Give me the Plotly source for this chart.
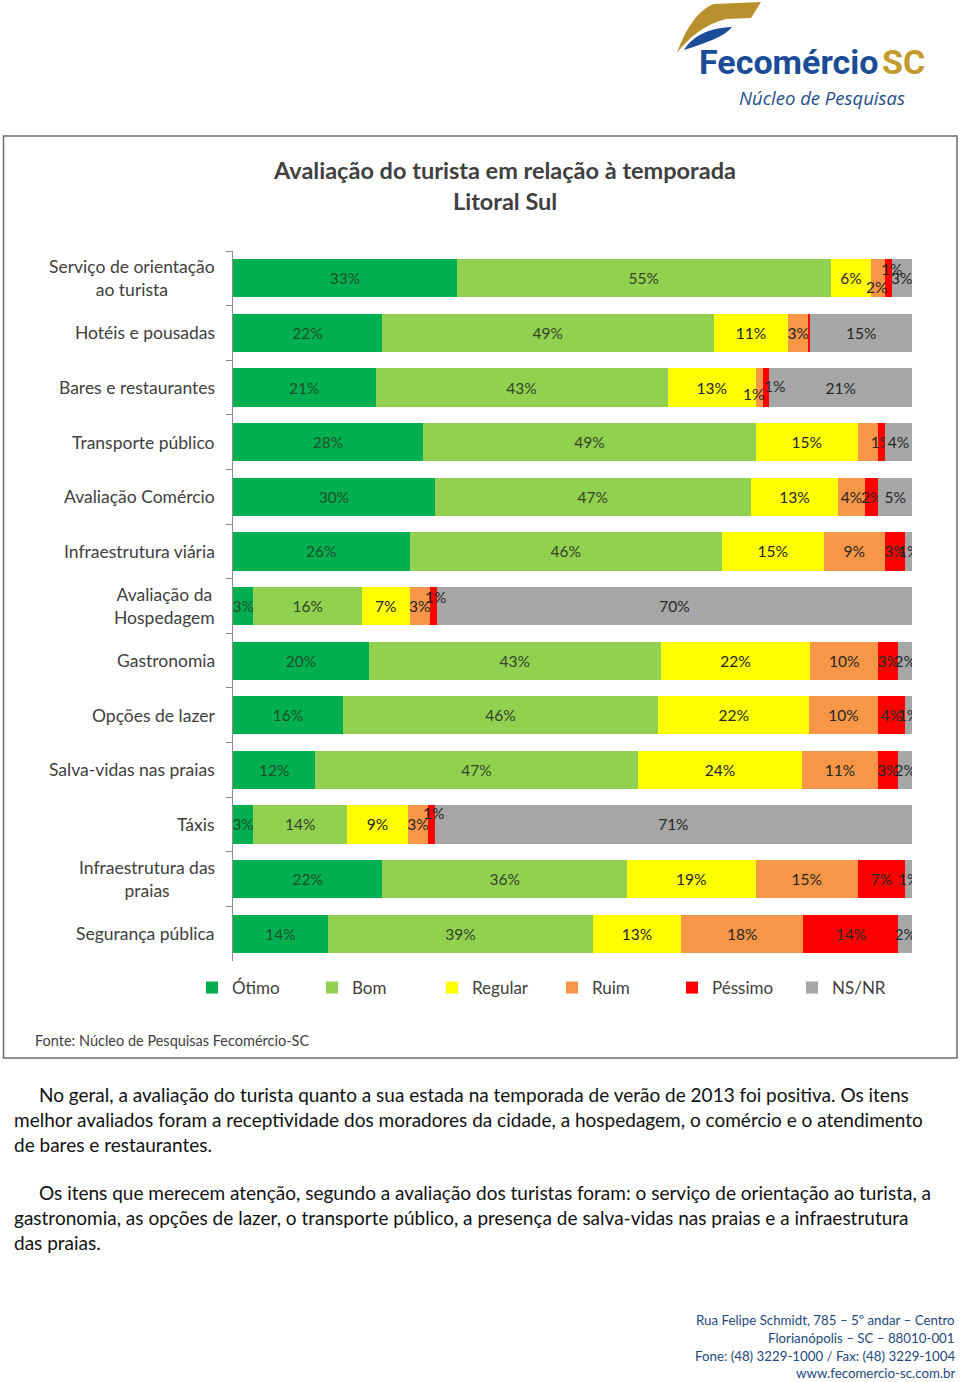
import plotly.graph_objects as go

W, H = 960, 1382

def px(x):
    return x / W

def py(y):
    return 1 - y / H

categories = [
    "Serviço de orientação<br>ao turista",
    "Hotéis e pousadas",
    "Bares e restaurantes",
    "Transporte público",
    "Avaliação Comércio",
    "Infraestrutura viária",
    "Avaliação da<br>Hospedagem",
    "Gastronomia",
    "Opções de lazer",
    "Salva-vidas nas praias",
    "Táxis",
    "Infraestrutura das<br>praias",
    "Segurança pública",
]

series_names = ["Ótimo", "Bom", "Regular", "Ruim", "Péssimo", "NS/NR"]

otimo   = [33, 22, 21, 28, 30, 26, 3, 20, 16, 12, 3, 22, 14]
bom     = [55, 49, 43, 49, 47, 46, 16, 43, 46, 47, 14, 36, 39]
regular = [6, 11, 13, 15, 13, 15, 7, 22, 22, 24, 9, 19, 13]
ruim    = [2, 3, 1, 3, 4, 9, 3, 10, 10, 11, 3, 15, 18]
pessimo = [1, 0.3, 1, 1, 2, 3, 1, 3, 4, 3, 1, 7, 14]
nsnr    = [3, 15, 21, 4, 5, 1, 70, 2, 1, 2, 71, 1, 2]

# labels printed on the bars (blank where the original shows none)
lbl_otimo   = ["33%", "22%", "21%", "28%", "30%", "26%", "3%", "20%", "16%", "12%", "3%", "22%", "14%"]
lbl_bom     = ["55%", "49%", "43%", "49%", "47%", "46%", "16%", "43%", "46%", "47%", "14%", "36%", "39%"]
lbl_regular = ["6%", "11%", "13%", "15%", "13%", "15%", "7%", "22%", "22%", "24%", "9%", "19%", "13%"]
lbl_ruim    = ["2%", "3%", "1%", "", "4%", "9%", "3%", "10%", "10%", "11%", "3%", "15%", "18%"]
lbl_pessimo = ["1%", "", "1%", "1%", "2%", "3%", "1%", "3%", "4%", "3%", "1%", "7%", "14%"]
lbl_nsnr    = ["3%", "15%", "21%", "4%", "5%", "1%", "70%", "2%", "1%", "2%", "71%", "1%", "2%"]

# labels that the original moves off-centre (row, series index) -> (xshift, yshift) in px
moved_labels = {
    (0, 3): (-2, -9),
    (0, 4): (3, 9),
    (2, 3): (-6, -6),
    (2, 4): (8, 2),
    (6, 4): (2, 9),
    (10, 4): (2, 11),
}

colors = ["#00B050", "#92D050", "#FFFF00", "#F79646", "#FF0000", "#A6A6A6"]
text_colors = ["#1d4f2c", "#34442a", "#262626", "#262626", "#262626", "#262626"]

values = [otimo, bom, regular, ruim, pessimo, nsnr]
labels = [list(l) for l in (lbl_otimo, lbl_bom, lbl_regular, lbl_ruim, lbl_pessimo, lbl_nsnr)]

FONT = "Lato"
GREY = "#404040"
LBL_SIZE = 15.5

annotations = []

# offset labels, placed at the segment centre (normalised like barnorm="percent")
for (r, s), (dx, dy) in moved_labels.items():
    total = sum(v[r] for v in values)
    start = sum(values[k][r] for k in range(s))
    xc = (start + values[s][r] / 2) / total * 100
    annotations.append(dict(
        x=xc, y=categories[r], xref="x", yref="y", xshift=dx, yshift=dy,
        text=labels[s][r], showarrow=False,
        font=dict(family=FONT, size=LBL_SIZE, color=text_colors[s]),
    ))
    labels[s][r] = ""

fig = go.Figure()
for name, vals, lbls, col, tcol in zip(series_names, values, labels, colors, text_colors):
    fig.add_trace(go.Bar(
        name=name, y=categories, x=vals, orientation="h",
        marker=dict(color=col, line=dict(width=0)),
        text=lbls, textposition="inside", insidetextanchor="middle",
        textangle=0, textfont=dict(family=FONT, size=LBL_SIZE, color=tcol),
        hoverinfo="skip",
    ))

# category labels (centered multi-line, right-aligned block)
for c in categories:
    annotations.append(dict(
        x=px(217), xref="paper", y=c, yref="y", xanchor="right", yanchor="middle",
        text=c, align="center", showarrow=False,
        font=dict(family=FONT, size=17.5, color=GREY),
    ))

# chart title
annotations += [
    dict(x=px(505), y=py(170), xref="paper", yref="paper", xanchor="center", yanchor="middle",
         text="<b>Avaliação do turista em relação à temporada</b>", showarrow=False,
         font=dict(family=FONT, size=23.5, color=GREY)),
    dict(x=px(505), y=py(201), xref="paper", yref="paper", xanchor="center", yanchor="middle",
         text="<b>Litoral Sul</b>", showarrow=False,
         font=dict(family=FONT, size=23.5, color=GREY)),
    dict(x=px(33), y=py(1040), xref="paper", yref="paper", xanchor="left", yanchor="middle",
         text="Fonte: Núcleo de Pesquisas Fecomércio-SC", showarrow=False,
         font=dict(family=FONT, size=14.5, color=GREY)),
]

# logo text
annotations += [
    dict(x=px(697), y=py(62), xref="paper", yref="paper", xanchor="left", yanchor="middle",
         text="<b>Fecomércio</b>", showarrow=False,
         font=dict(family="Roboto", size=34, color="#1B4C97")),
    dict(x=px(927), y=py(62), xref="paper", yref="paper", xanchor="right", yanchor="middle",
         text="<b>SC</b>", showarrow=False,
         font=dict(family="Roboto", size=34, color="#C49A2C")),
    dict(x=px(907), y=py(98), xref="paper", yref="paper", xanchor="right", yanchor="middle",
         text="<i>Núcleo de Pesquisas</i>", showarrow=False,
         font=dict(family="Open Sans", size=18.5, color="#1F4E8C")),
]

# body text
body_lines = [
    (37, 1094, "No geral, a avaliação do turista quanto a sua estada na temporada de verão de 2013 foi positiva. Os itens"),
    (12, 1119, "melhor avaliados foram a receptividade dos moradores da cidade, a hospedagem, o comércio e o atendimento"),
    (12, 1144, "de bares e restaurantes."),
    (37, 1192, "Os itens que merecem atenção, segundo a avaliação dos turistas foram: o serviço de orientação ao turista, a"),
    (12, 1217, "gastronomia, as opções de lazer, o transporte público, a presença de salva-vidas nas praias e a infraestrutura"),
    (12, 1242, "das praias."),
]
for x0, y0, t in body_lines:
    annotations.append(dict(
        x=px(x0), y=py(y0), xref="paper", yref="paper", xanchor="left", yanchor="middle",
        text=t, showarrow=False, font=dict(family=FONT, size=19, color="#111111"),
    ))

footer_lines = [
    (1320, "Rua Felipe Schmidt, 785 – 5º andar – Centro"),
    (1338, "Florianópolis – SC – 88010-001"),
    (1356, "Fone: (48) 3229-1000 / Fax: (48) 3229-1004"),
    (1373, "www.fecomercio-sc.com.br"),
]
for y0, t in footer_lines:
    annotations.append(dict(
        x=px(957), y=py(y0), xref="paper", yref="paper", xanchor="right", yanchor="middle",
        text=t, showarrow=False, font=dict(family=FONT, size=13.3, color="#1F497D"),
    ))

gold_path = (f"M {px(677)} {py(53)} "
             f"C {px(686)} {py(28)}, {px(698)} {py(10)}, {px(714)} {py(4)} "
             f"L {px(761)} {py(2)} "
             f"L {px(751)} {py(18)} "
             f"L {px(726)} {py(19)} "
             f"C {px(706)} {py(24)}, {px(690)} {py(36)}, {px(677)} {py(53)} Z")
blue_path = (f"M {px(684)} {py(50)} "
             f"C {px(693)} {py(36)}, {px(708)} {py(28)}, {px(732)} {py(27)} "
             f"C {px(724)} {py(37)}, {px(708)} {py(42)}, {px(684)} {py(50)} Z")

shapes = [
    dict(type="rect", xref="paper", yref="paper", x0=px(3.5), x1=px(957), y0=py(136), y1=py(1058),
         line=dict(color="#6b6b6b", width=1.5), fillcolor="rgba(0,0,0,0)", layer="below"),
    dict(type="path", xref="paper", yref="paper", path=gold_path,
         fillcolor="#B8912E", line=dict(width=0)),
    dict(type="path", xref="paper", yref="paper", path=blue_path,
         fillcolor="#1B4C97", line=dict(width=0)),
]

fig.update_layout(
    width=W, height=H,
    margin=dict(l=0, r=0, t=0, b=0),
    paper_bgcolor="white", plot_bgcolor="white",
    barmode="stack", barnorm="percent", bargap=0.3,
    uniformtext=dict(minsize=LBL_SIZE, mode="show"),
    xaxis=dict(domain=[px(233), px(912)], range=[0, 100], visible=False, fixedrange=True),
    yaxis=dict(domain=[py(961), py(251)], type="category", autorange="reversed",
               categoryorder="array", categoryarray=categories,
               showticklabels=False, showline=True, linecolor="#8c8c8c", linewidth=1,
               ticks="outside", tickson="boundaries", ticklen=6, tickcolor="#8c8c8c",
               showgrid=False, zeroline=False, fixedrange=True),
    legend=dict(orientation="h", x=px(192), xanchor="left", y=py(988), yanchor="middle",
                font=dict(family=FONT, size=17, color=GREY),
                entrywidth=75, entrywidthmode="pixels", itemwidth=30,
                traceorder="normal", bgcolor="rgba(0,0,0,0)"),
    annotations=annotations,
    shapes=shapes,
    showlegend=True,
)

fig.write_html("out.html", config={"displayModeBar": False},
               post_script="document.body.style.margin='0';")
